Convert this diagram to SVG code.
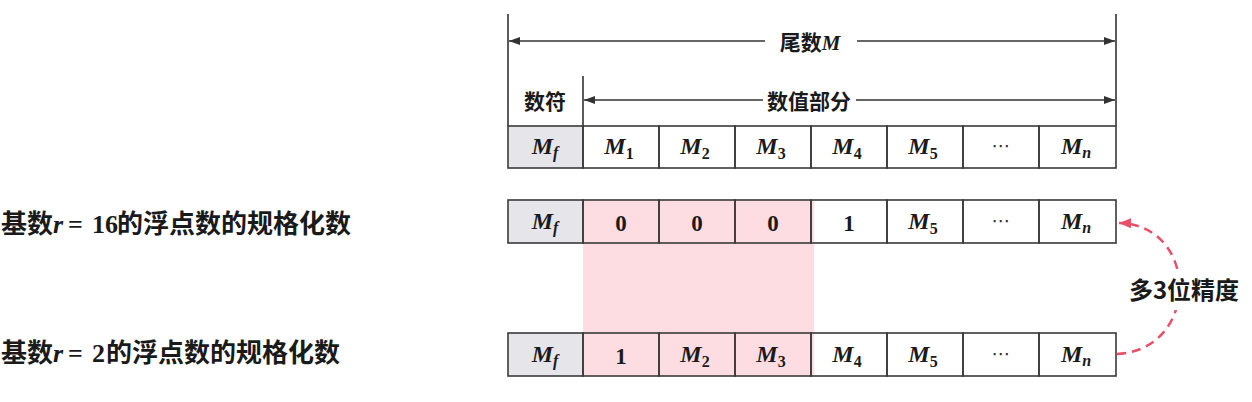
<svg xmlns="http://www.w3.org/2000/svg" width="1252" height="402" viewBox="0 0 1252 402">
<style>
.cell{fill:none;stroke:#3a3a3a;stroke-width:1.6}
.mf{fill:#e5e5ea;stroke:#3a3a3a;stroke-width:1.6}
.ln{stroke:#333;stroke-width:1.6;fill:none}
.m{font-family:"Liberation Serif","DejaVu Serif",serif;font-weight:bold;font-style:italic;font-size:24px;fill:#1a1a1a;text-anchor:middle}
.sub{font-size:16px;font-style:normal}
.subi{font-size:16px;font-style:italic}
.num{font-family:"Liberation Serif","DejaVu Serif",serif;font-weight:bold;font-size:23px;fill:#1a1a1a;text-anchor:middle}
.dots{font-family:"DejaVu Sans",sans-serif;font-size:19px;fill:#333;text-anchor:middle}
.cn{font-family:"Noto Sans CJK SC","Noto Sans",sans-serif;font-weight:bold;fill:#1a1a1a}
.lbl{font-family:"Noto Sans CJK SC","Noto Sans",sans-serif;font-weight:bold;font-size:26px;fill:#1a1a1a}
.mi{font-family:"Liberation Serif","DejaVu Serif",serif;font-style:italic;font-weight:bold}
.mr{font-family:"Liberation Serif","DejaVu Serif",serif;font-weight:bold}
.dash{fill:none;stroke:#e8506a;stroke-width:2.5;stroke-dasharray:9 6}
</style>
<defs>
<marker id="ah" markerUnits="userSpaceOnUse" markerWidth="12" markerHeight="8" refX="11" refY="4" orient="auto-start-reverse">
<path d="M0,0 L11,4 L0,8 z" fill="#333"/>
</marker>
<marker id="rah" markerUnits="userSpaceOnUse" markerWidth="14" markerHeight="10" refX="12" refY="5" orient="auto">
<path d="M0,0 L12,5 L0,10 z" fill="#e8506a"/>
</marker>
</defs>
<rect width="1252" height="402" fill="#ffffff"/>

<g id="highlight">
<rect x="583" y="200" width="231" height="176" fill="#fddde2"/>
</g>

<g id="connectors">
<line class="ln" x1="508" y1="14" x2="508" y2="126"/>
<line class="ln" x1="1116" y1="14" x2="1116" y2="126"/>
<line class="ln" x1="583" y1="76" x2="583" y2="126"/>
<line class="ln" x1="765" y1="41" x2="509" y2="41" marker-end="url(#ah)"/>
<line class="ln" x1="857" y1="41" x2="1115" y2="41" marker-end="url(#ah)"/>
<line class="ln" x1="763" y1="100" x2="584" y2="100" marker-end="url(#ah)"/>
<line class="ln" x1="856" y1="100" x2="1115" y2="100" marker-end="url(#ah)"/>
<path class="dash" d="M1117,354 C1200,350 1200,225 1119,223" marker-end="url(#rah)"/>
</g>

<g id="header">
<text class="cn" x="810" y="50" font-size="21" text-anchor="middle">尾数<tspan class="mi" font-weight="normal">M</tspan></text>
<text class="cn" x="545" y="109" font-size="21" text-anchor="middle">数符</text>
<text class="cn" x="809" y="109" font-size="21" text-anchor="middle">数值部分</text>
</g>

<g id="row-mantissa">
<rect class="mf" x="508" y="126" width="75" height="42"/>
<rect class="cell" x="583" y="126" width="76" height="42"/>
<rect class="cell" x="659" y="126" width="76" height="42"/>
<rect class="cell" x="735" y="126" width="76" height="42"/>
<rect class="cell" x="811" y="126" width="76" height="42"/>
<rect class="cell" x="887" y="126" width="76" height="42"/>
<rect class="cell" x="963" y="126" width="76" height="42"/>
<rect class="cell" x="1039" y="126" width="77" height="42"/>
<text class="m" x="545" y="154">M<tspan class="subi" dy="4">f</tspan></text>
<text class="m" x="619" y="154">M<tspan class="sub" dy="5">1</tspan></text>
<text class="m" x="695" y="154">M<tspan class="sub" dy="5">2</tspan></text>
<text class="m" x="771" y="154">M<tspan class="sub" dy="5">3</tspan></text>
<text class="m" x="847" y="154">M<tspan class="sub" dy="5">4</tspan></text>
<text class="m" x="923" y="154">M<tspan class="sub" dy="5">5</tspan></text>
<text class="dots" x="1001" y="152">⋯</text>
<text class="m" x="1076" y="154">M<tspan class="subi" dy="4">n</tspan></text>
</g>

<g id="row-r16">
<rect class="mf" x="508" y="200" width="75" height="43"/>
<rect class="cell" x="583" y="200" width="76" height="43"/>
<rect class="cell" x="659" y="200" width="76" height="43"/>
<rect class="cell" x="735" y="200" width="76" height="43"/>
<rect class="cell" x="811" y="200" width="76" height="43"/>
<rect class="cell" x="887" y="200" width="76" height="43"/>
<rect class="cell" x="963" y="200" width="76" height="43"/>
<rect class="cell" x="1039" y="200" width="77" height="43"/>
<text class="m" x="545" y="229">M<tspan class="subi" dy="4">f</tspan></text>
<text class="num" x="621" y="231">0</text>
<text class="num" x="697" y="231">0</text>
<text class="num" x="773" y="231">0</text>
<text class="num" x="849" y="231">1</text>
<text class="m" x="923" y="229">M<tspan class="sub" dy="5">5</tspan></text>
<text class="dots" x="1001" y="227">⋯</text>
<text class="m" x="1076" y="229">M<tspan class="subi" dy="4">n</tspan></text>
</g>

<g id="row-r2">
<rect class="mf" x="508" y="333" width="75" height="43"/>
<rect class="cell" x="583" y="333" width="76" height="43"/>
<rect class="cell" x="659" y="333" width="76" height="43"/>
<rect class="cell" x="735" y="333" width="76" height="43"/>
<rect class="cell" x="811" y="333" width="76" height="43"/>
<rect class="cell" x="887" y="333" width="76" height="43"/>
<rect class="cell" x="963" y="333" width="76" height="43"/>
<rect class="cell" x="1039" y="333" width="77" height="43"/>
<text class="m" x="545" y="362">M<tspan class="subi" dy="4">f</tspan></text>
<text class="num" x="621" y="364">1</text>
<text class="m" x="695" y="362">M<tspan class="sub" dy="5">2</tspan></text>
<text class="m" x="771" y="362">M<tspan class="sub" dy="5">3</tspan></text>
<text class="m" x="847" y="362">M<tspan class="sub" dy="5">4</tspan></text>
<text class="m" x="923" y="362">M<tspan class="sub" dy="5">5</tspan></text>
<text class="dots" x="1001" y="360">⋯</text>
<text class="m" x="1076" y="362">M<tspan class="subi" dy="4">n</tspan></text>
</g>

<g id="label-r16">
<text class="lbl" x="1" y="233">基数<tspan class="mi" x="53">r</tspan><tspan class="mr" x="68">=</tspan><tspan class="mr" x="92">16</tspan><tspan x="117">的浮点数的规格化数</tspan></text>
</g>
<g id="label-r2">
<text class="lbl" x="1" y="362">基数<tspan class="mi" x="53">r</tspan><tspan class="mr" x="68">=</tspan><tspan class="mr" x="92">2</tspan><tspan x="106">的浮点数的规格化数</tspan></text>
</g>

<g id="label-precision">
<rect x="1122" y="270" width="124" height="40" fill="#ffffff"/>
<text class="cn" x="1184" y="299" font-size="24" text-anchor="middle">多3位精度</text>
</g>
</svg>
